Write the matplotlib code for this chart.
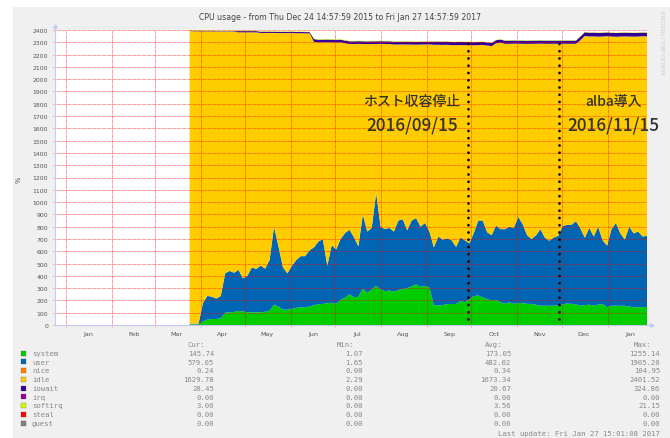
import matplotlib
matplotlib.use('Agg')
import matplotlib.pyplot as plt
import matplotlib.dates as mdates
from matplotlib.patches import Rectangle
from matplotlib.ticker import NullFormatter
import numpy as np
import pandas as pd

W, H = 670, 439

# munin cpu plugin, yearly view (one sample every 3 days from first data)
dates = pd.date_range('2016-03-24 14:58', periods=104, freq='3D')

system = [5, 5, 5, 30, 45, 49, 49, 55, 100, 103, 105, 115, 110, 103, 103, 103,
          103, 108, 117, 165, 150, 125, 125, 130, 140, 144, 145, 150, 160, 170,
          171, 178, 180, 172, 205, 222, 250, 225, 230, 295, 260, 290, 318, 290,
          275, 280, 270, 285, 293, 300, 315, 330, 310, 318, 305, 160, 160, 163,
          170, 171, 171, 195, 185, 210, 235, 240, 225, 210, 200, 205, 185, 172,
          185, 172, 180, 178, 172, 171, 165, 157, 157, 157, 157, 160, 168, 175,
          172, 168, 157, 162, 165, 160, 165, 171, 145, 157, 157, 157, 157, 150,
          145, 144, 146, 146]

user = [5, 5, 7, 150, 192, 181, 166, 181, 320, 337, 320, 333, 270, 298, 365, 353,
        380, 350, 413, 635, 490, 345, 295, 350, 388, 416, 415, 458, 472, 510,
        527, 305, 470, 443, 495, 526, 525, 489, 410, 605, 500, 500, 757, 510,
        505, 510, 490, 565, 567, 470, 535, 540, 490, 512, 455, 472, 560, 532,
        535, 519, 464, 517, 503, 455, 515, 610, 625, 545, 530, 605, 595, 608,
        615, 618, 700, 642, 558, 529, 565, 623, 553, 529, 555, 565, 637, 640,
        643, 677, 628, 548, 625, 560, 635, 519, 500, 623, 673, 588, 538, 650,
        600, 616, 574, 579]

# top of the whole stack
total = [2402, 2398, 2398, 2398, 2398, 2398, 2395, 2395, 2395, 2395, 2395, 2395,
         2395, 2395, 2395, 2395, 2390, 2390, 2390, 2390, 2389, 2389, 2389, 2389,
         2388, 2388, 2387, 2387, 2330, 2325, 2325, 2326, 2325, 2324, 2325, 2318,
         2312, 2312, 2313, 2312, 2311, 2312, 2312, 2313, 2312, 2312, 2308, 2308,
         2309, 2308, 2308, 2307, 2308, 2308, 2309, 2308, 2308, 2307, 2308, 2305,
         2305, 2306, 2305, 2305, 2304, 2305, 2306, 2302, 2297, 2320, 2325, 2316,
         2316, 2317, 2316, 2316, 2315, 2316, 2316, 2317, 2316, 2316, 2316, 2316,
         2316, 2316, 2316, 2316, 2350, 2385, 2380, 2381, 2379, 2380, 2383, 2380,
         2378, 2380, 2381, 2380, 2379, 2380, 2382, 2380]

iowait = [4, 4, 4, 4, 4, 4, 4, 4, 4, 4, 4, 10, 10, 10, 10, 10, 10, 10, 10, 10,
          10, 10, 10, 10, 10, 10, 10, 10, 22, 22, 22, 22, 22, 22, 22, 22, 22, 22,
          22, 22, 22, 22, 22, 22, 22, 22, 22, 22, 22, 22, 22, 22, 22, 22, 22, 25,
          25, 25, 25, 25, 25, 25, 25, 25, 25, 25, 25, 25, 25, 25, 25, 25, 25, 25,
          25, 25, 25, 25, 25, 25, 25, 25, 25, 25, 25, 25, 25, 25, 30, 30, 30, 30,
          30, 30, 30, 30, 30, 30, 30, 30, 30, 30, 30, 28]

softirq = [5, 5, 5, 5, 5, 5, 5, 5, 5, 5, 4, 4, 4, 4, 4, 4, 4, 4, 4, 4, 4, 4, 4,
           4, 4, 4, 4, 4, 4, 4, 4, 4, 4, 4, 4, 4, 4, 4, 4, 4, 4, 4, 4, 4, 4, 4,
           4, 4, 4, 4, 4, 4, 4, 4, 4, 3, 3, 3, 3, 3, 3, 3, 3, 3, 3, 3, 3, 3, 3,
           3, 3, 3, 3, 3, 3, 3, 3, 3, 3, 3, 3, 3, 3, 3, 3, 3, 3, 3, 3, 3, 3, 3,
           3, 3, 3, 3, 3, 3, 3, 3, 3, 3, 3, 3]

event_dates = ['2016-09-29', '2016-11-29']
event_titles = ['ホスト収容停止', 'alba導入']
event_labels = ['2016/09/15', '2016/11/15']

names = ['system', 'user', 'nice', 'idle', 'iowait', 'irq', 'softirq', 'steal', 'guest']
colors = ['#00CC00', '#0066B3', '#FF8000', '#FFCC00', '#330099',
          '#990099', '#CCFF00', '#FF0000', '#808080']
cur = ['145.74', '579.05', '0.24', '1629.78', '28.45', '0.00', '3.00', '0.00', '0.00']
vmin = ['1.07', '1.65', '0.00', '2.29', '0.00', '0.00', '0.00', '0.00', '0.00']
vavg = ['173.05', '482.02', '0.34', '1673.34', '20.67', '0.00', '3.56', '0.00', '0.00']
vmax = ['1255.14', '1905.20', '104.95', '2401.52', '324.86', '0.00', '21.15', '0.00', '0.00']

t_start = pd.Timestamp('2015-12-24 14:57:59')
t_end = pd.Timestamp('2017-01-27 14:57:59')


def fx(px):
    return px / W


def fy(py):
    return 1 - py / H


fig = plt.figure(figsize=(W / 100, H / 100), dpi=100)
fig.patch.set_facecolor('white')
fig.patches.append(Rectangle((fx(13), 0), 1 - fx(13), fy(8), transform=fig.transFigure,
                             facecolor='#F0F0F0', edgecolor='none', zorder=-5))

ax = fig.add_axes([fx(55), fy(326), fx(647) - fx(55), fy(31) - fy(326)])
ax.set_facecolor('white')

system = np.array(system, float)
user = np.array(user, float)
iowait = np.array(iowait, float)
softirq = np.array(softirq, float)
idle = np.array(total, float) - system - user - iowait - softirq

ax.stackplot(dates, system, user, idle, iowait, softirq,
             colors=['#00CC00', '#0066B3', '#FFCC00', '#330099', '#CCFF00'],
             linewidth=0, zorder=2)

ax.set_xlim(t_start, t_end)
ax.set_ylim(0, 2400)
ax.set_yticks(range(0, 2401, 100))

ax.xaxis.set_major_locator(mdates.MonthLocator())
ax.xaxis.set_major_formatter(NullFormatter())
ax.xaxis.set_minor_locator(mdates.MonthLocator(bymonthday=16))
ax.xaxis.set_minor_formatter(mdates.DateFormatter('%b'))

grid_col = (1, 0, 0, 0.13)
ax.grid(True, which='major', color=grid_col, linestyle=(0, (1, 1)), linewidth=0.45, zorder=3)
ax.set_axisbelow(False)
ax.tick_params(axis='x', which='minor', length=0, labelsize=4.6, labelcolor='#555555', pad=4)
ax.tick_params(axis='x', which='major', length=2.5, width=0.5, color=(1, 0, 0, 0.3))
ax.tick_params(axis='y', length=2.5, width=0.5, color=(1, 0, 0, 0.3), labelsize=4.4,
               labelcolor='#555555', pad=2.5)

for s in ['top', 'right']:
    ax.spines[s].set_visible(False)
for s in ['left', 'bottom']:
    ax.spines[s].set_color('#C4C8F4')
    ax.spines[s].set_linewidth(0.8)
    ax.spines[s].set_zorder(4)
# axis arrows
ax.plot([0, 0], [1, 1.012], color='#C4C8F4', lw=0.8, transform=ax.transAxes, clip_on=False)
ax.plot([0], [1.015], marker='^', ms=2.5, color='#C4C8F4', transform=ax.transAxes, clip_on=False)
ax.plot([1, 1.006], [0, 0], color='#C4C8F4', lw=0.8, transform=ax.transAxes, clip_on=False)
ax.plot([1.008], [0], marker='>', ms=2.5, color='#C4C8F4', transform=ax.transAxes, clip_on=False)

# event markers
for d in event_dates:
    ax.axvline(pd.Timestamp(d), ymin=0.02, ymax=0.975, color='black', lw=2.0,
               linestyle=(0, (0.01, 2.6)), dash_capstyle='round', zorder=5)
for xc, title, lab in zip([fx(412), fx(613)], event_titles, event_labels):
    fig.text(xc, fy(102), title, ha='center', va='center', fontsize=10,
             family=['Noto Sans CJK JP', 'DejaVu Sans'], weight='medium', color='#333333')
    fig.text(xc, fy(125), lab, ha='center', va='center', fontsize=12.4,
             family=['Noto Sans CJK JP', 'DejaVu Sans'], weight='medium', color='#333333')

fig.text(fx(340), fy(17), 'CPU usage - from Thu Dec 24 14:57:59 2015 to Fri Jan 27 14:57:59 2017',
         ha='center', va='center', fontsize=5.6, color='#444444')
fig.text(fx(19), fy(180), '%', rotation=90, ha='center', va='center', fontsize=4.8, color='#555555')
fig.text(fx(662), fy(11), 'RRDTOOL / TOBI OETIKER', rotation=270, ha='center', va='top',
         fontsize=3.6, color='#C8C8C8')

# legend block
mono = dict(family='DejaVu Sans Mono', fontsize=5.2, color='#888888', va='center')
col_right = [214, 363, 511, 660]
for x, head in zip(col_right, ['Cur:', 'Min:', 'Avg:', 'Max:']):
    fig.text(fx(x - 9), fy(345), head, ha='right', **mono)
for i, name in enumerate(names):
    yy = 354 + i * 8.75
    fig.patches.append(Rectangle((fx(21), fy(yy + 2.5)), fx(5), 5 / H, transform=fig.transFigure,
                                 facecolor=colors[i], edgecolor='#555555', linewidth=0.2))
    fig.text(fx(32), fy(yy), name, ha='left', **mono)
    for x, val in zip(col_right, [cur[i], vmin[i], vavg[i], vmax[i]]):
        fig.text(fx(x), fy(yy), val, ha='right', **mono)
fig.text(fx(660), fy(434), 'Last update: Fri Jan 27 15:01:08 2017', ha='right', **mono)

fig.savefig('out.png', dpi=100)
